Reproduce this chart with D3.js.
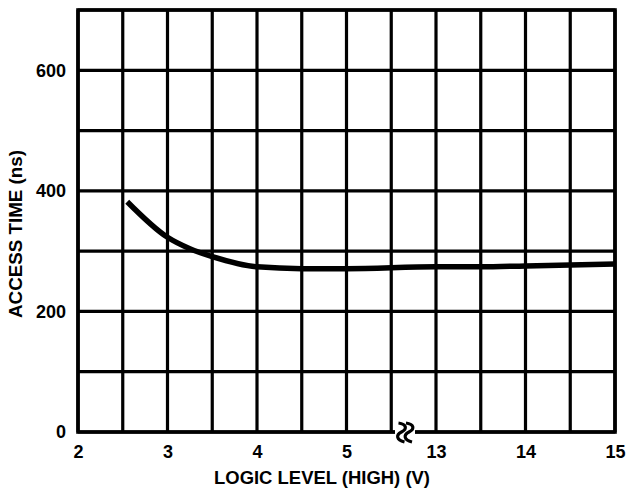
<!DOCTYPE html>
<html><head><meta charset="utf-8">
<script src="https://cdn.jsdelivr.net/npm/d3@7"></script>
<style>body{margin:0;background:#fff}svg{display:block}text{font-family:"Liberation Sans",Arial,sans-serif;font-weight:bold;fill:#000}</style>
</head><body><svg id="c" width="627" height="489"></svg>
<script>
// Data
const voltage = [2.55, 3.0, 3.25, 3.5, 4.0, 4.5, 5.0, 13.0, 13.5, 14.0, 14.5, 15.0];
const accessTime = [382, 323, 304, 291, 274, 271, 271, 274, 274, 275.5, 277, 278.5];
const xTickValues = [2, 3, 4, 5, 13, 14, 15];
const xGridValues = [2, 2.5, 3, 3.5, 4, 4.5, 5, 9, 13, 13.5, 14, 14.5, 15];
const yTickValues = [0, 200, 400, 600];
const yGridValues = [0, 100, 200, 300, 400, 500, 600, 700];

const svg = d3.select("#c");
const L = 78, R = 615, T = 10, B = 432;
const W = R - L;
// piecewise scale with a break between 5 and 13
const x = d3.scaleLinear().domain([2, 5, 9, 13, 15]).range([L, L + W * 6 / 12, L + W * 7 / 12, L + W * 8 / 12, R]);
const y = d3.scaleLinear().domain([0, 700]).range([B, T]);

const g = svg.append("g");
g.selectAll(".vg").data(xGridValues).enter().append("line")
  .attr("x1", d => x(d)).attr("x2", d => x(d)).attr("y1", T).attr("y2", B)
  .attr("stroke", "#000").attr("stroke-width", 3.2);
g.selectAll(".hg").data(yGridValues).enter().append("line")
  .attr("x1", L).attr("x2", R).attr("y1", d => y(d)).attr("y2", d => y(d))
  .attr("stroke", "#000").attr("stroke-width", 3.2);
g.append("rect").attr("x", L).attr("y", T).attr("width", W).attr("height", B - T)
  .attr("fill", "none").attr("stroke", "#000").attr("stroke-width", 3.6);

const font = '"Liberation Sans",Arial,sans-serif';
const xAxis = d3.axisBottom(x).tickValues(xTickValues).tickSize(0).tickPadding(13).tickFormat(d3.format("d"));
const xa = svg.append("g").attr("transform", `translate(0,${B})`).call(xAxis);
xa.select(".domain").remove();
xa.selectAll("text").style("font-size", "18px").style("font-family", font).style("font-weight", "bold");

const yAxis = d3.axisLeft(y).tickValues(yTickValues).tickSize(0).tickPadding(12).tickFormat(d3.format("d"));
const ya = svg.append("g").attr("transform", `translate(${L},0)`).call(yAxis);
ya.select(".domain").remove();
ya.selectAll("text").style("font-size", "18px").style("font-family", font).style("font-weight", "bold");

// break symbol
const bx = 405;
svg.append("rect").attr("x", bx - 10).attr("y", B - 4).attr("width", 20).attr("height", 8).attr("fill", "#fff");
const brk = svg.append("g").attr("transform", `translate(${bx},${B + 1})`);
const zig = "M-3,-10 C5,-9 6,-4 0,-1 C-6,2 -5,7 3,9";
brk.append("path").attr("d", zig).attr("transform", "translate(-3.5,0)").attr("fill", "none").attr("stroke", "#000").attr("stroke-width", 3.2);
brk.append("path").attr("d", zig).attr("transform", "translate(4,0)").attr("fill", "none").attr("stroke", "#000").attr("stroke-width", 3.2);

// curve
const data = voltage.map((v, i) => [v, accessTime[i]]);
svg.append("path").datum(data)
  .attr("d", d3.line().x(d => x(d[0])).y(d => y(d[1])).curve(d3.curveMonotoneX))
  .attr("fill", "none").attr("stroke", "#000").attr("stroke-width", 5.5);

// titles
svg.append("text").attr("x", 322).attr("y", 484).attr("text-anchor", "middle")
  .attr("textLength", 216).attr("lengthAdjust", "spacingAndGlyphs")
  .style("font-size", "18.5px").text("LOGIC LEVEL (HIGH) (V)");
svg.append("text").attr("transform", `translate(22,234) rotate(-90)`).attr("text-anchor", "middle")
  .attr("textLength", 168).attr("lengthAdjust", "spacingAndGlyphs")
  .style("font-size", "18.5px").text("ACCESS TIME (ns)");
</script></body></html>
